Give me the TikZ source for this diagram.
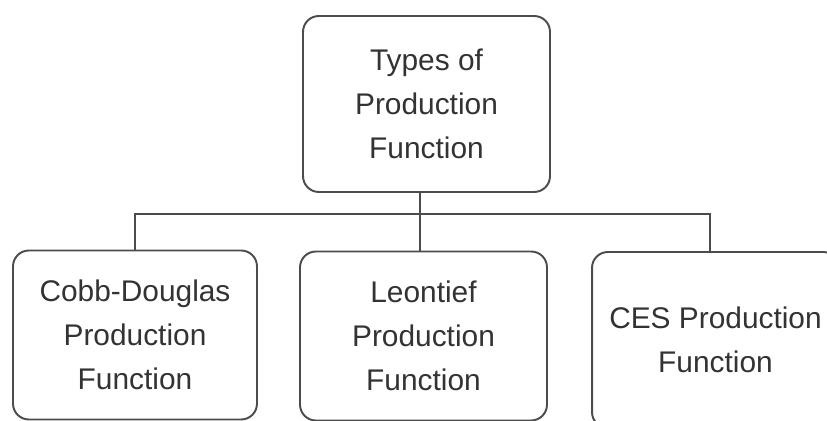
\documentclass[tikz,border=0pt]{standalone}
\usepackage{fontspec}
\setmainfont{Liberation Sans}
\usepackage{tikz}
\usetikzlibrary{positioning}

\begin{document}
\begin{tikzpicture}[
    x=0.02cm, y=-0.02cm,
    box/.style={draw=black!70, line width=1.1pt, rounded corners=9pt,
                minimum width=4.94cm, minimum height=#1, align=center,
                text=black!80, font=\fontsize{17}{25}\selectfont},
    box/.default=3.4cm,
    link/.style={draw=black!70, line width=1pt},
]

% --- Frame ---
\useasboundingbox (0,0) rectangle (827,421);
\clip (0,0) rectangle (827,421);

% --- Nodes ---
\node[box=3.52cm] (types) at (426.5,104) {Types of\\Production\\Function};
\node[box=3.38cm, minimum width=4.88cm] (cobb) at (135,335) {Cobb-Douglas\\Production\\Function};
\node[box=3.38cm] (leon) at (423.5,336) {Leontief\\Production\\Function};
\node[box=3.52cm] (ces) at (715.5,340) {CES Production\\Function};

% --- Connectors ---
\coordinate (bus) at (420,214);
\draw[link] (types.south -| bus) -- (bus);
\draw[link] (cobb.north) |- (bus);
\draw[link] (ces.north -| 710,0) |- (bus);
\draw[link] (bus) -- (leon.north -| bus);

\end{tikzpicture}
\end{document}
